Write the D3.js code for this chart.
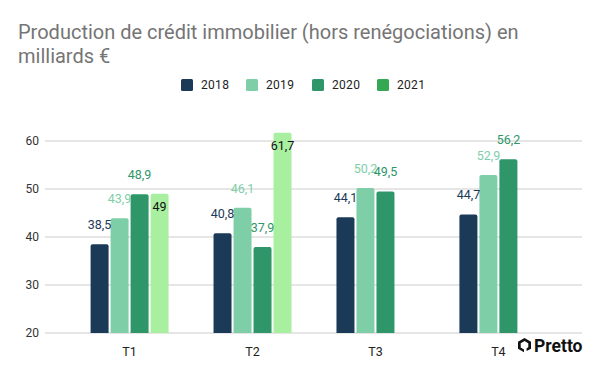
<!DOCTYPE html>
<html>
<head>
<meta charset="UTF-8">
<title>Production de crédit immobilier</title>
<script src="https://cdn.jsdelivr.net/npm/d3@7"></script>
<style>
  body { margin: 0; background: #fff; }
  svg text { font-family: Roboto, "Noto Sans", sans-serif; }
</style>
</head>
<body>
<div id="chart"></div>
<script>
// data
var quarters = ["T1", "T2", "T3", "T4"];
var years = ["2018", "2019", "2020", "2021"];
var v2018 = [38.5, 40.8, 44.1, 44.7];
var v2019 = [43.9, 46.1, 50.2, 52.9];
var v2020 = [48.9, 37.9, 49.5, 56.2];
var v2021 = [49, 61.7, null, null];
var yTicks = [20, 30, 40, 50, 60];

var barColors = ["#1b3a57", "#7ecfa8", "#2e9668", "#a8f0a0"];
var legendColors = ["#1b3a57", "#7ecfa8", "#2e9668", "#34a853"];
var labelColors = ["#1b3a57", "#7ecfa8", "#2e9668", "#111111"];

var series = [v2018, v2019, v2020, v2021];
var rows = [];
quarters.forEach(function (q, i) {
  years.forEach(function (yr, j) {
    if (series[j][i] != null) rows.push({ q: q, year: yr, idx: j, value: series[j][i] });
  });
});

var width = 600, height = 371;
var margin = { top: 141, right: 18, bottom: 38, left: 46 };

var svg = d3.select("#chart").append("svg")
  .attr("width", width).attr("height", height);

// title
var title = svg.append("text").attr("x", 18).attr("y", 39)
  .style("font-size", "20px").style("fill", "#757575");
title.append("tspan").attr("x", 18).text("Production de crédit immobilier (hors renégociations) en");
title.append("tspan").attr("x", 18).attr("dy", 24).text("milliards €");

// scales
var x = d3.scaleBand().domain(quarters)
  .range([margin.left, width - margin.right])
  .paddingInner(0).paddingOuter(0.18);
var xi = d3.scaleBand().domain(years).range([0, 78]).paddingInner(0.1).paddingOuter(0);
var y = d3.scaleLinear().domain([20, 60]).range([333, 141]);

// grid
svg.append("g").selectAll("line").data(yTicks).enter().append("line")
  .attr("x1", 45).attr("x2", 582)
  .attr("y1", function (d) { return y(d); }).attr("y2", function (d) { return y(d); })
  .style("stroke", "#cccccc").style("stroke-width", 1);

svg.append("g").selectAll("text").data(yTicks).enter().append("text")
  .attr("x", 39).attr("y", function (d) { return y(d); })
  .attr("dy", "0.35em").attr("text-anchor", "end")
  .style("font-size", "12px").style("fill", "#333")
  .text(function (d) { return d; });

// bars with rounded tops
function barPath(x0, w, top, bottom, r) {
  return "M" + x0 + "," + bottom +
    "V" + (top + r) +
    "Q" + x0 + "," + top + " " + (x0 + r) + "," + top +
    "H" + (x0 + w - r) +
    "Q" + (x0 + w) + "," + top + " " + (x0 + w) + "," + (top + r) +
    "V" + bottom + "Z";
}

var groupOffset = (x.bandwidth() - 78) / 2;
function bx(d) { return x(d.q) + groupOffset + xi(d.year); }

svg.append("g").selectAll("path").data(rows).enter().append("path")
  .attr("d", function (d) { return barPath(bx(d), xi.bandwidth(), y(d.value), y(20), 2); })
  .style("fill", function (d) { return barColors[d.idx]; });

// value labels
svg.append("g").selectAll("text").data(rows).enter().append("text")
  .attr("x", function (d) { return bx(d) + xi.bandwidth() / 2; })
  .attr("y", function (d) { return d.idx === 3 ? y(d.value) + 17 : y(d.value) - 15; })
  .attr("text-anchor", "middle")
  .style("font-size", "12.5px")
  .style("fill", function (d) { return labelColors[d.idx]; })
  .text(function (d) { return String(d.value).replace(".", ","); });

// category axis labels
svg.append("g").selectAll("text").data(quarters).enter().append("text")
  .attr("x", function (d) { return x(d) + x.bandwidth() / 2; })
  .attr("y", 356).attr("text-anchor", "middle")
  .style("font-size", "12.5px").style("fill", "#222")
  .text(function (d) { return d; });

// legend
var legendX = [181, 246, 312, 377];
var legend = svg.append("g").selectAll("g").data(years).enter().append("g")
  .attr("transform", function (d, i) { return "translate(" + legendX[i] + ",79)"; });
legend.append("rect").attr("width", 12).attr("height", 12).attr("rx", 1.5)
  .style("fill", function (d, i) { return legendColors[i]; });
legend.append("text").attr("x", 20).attr("y", 6).attr("dy", "0.35em")
  .style("font-size", "12px").style("fill", "#222").style("letter-spacing", "0.3px")
  .text(function (d) { return d; });

// Pretto logo
var logo = svg.append("g").attr("transform", "translate(518,338)");
logo.append("path")
  .attr("d", "M6.5,0 L13,3.8 L13,10.8 L8.6,13 L8.6,10.2 L10.3,9.3 L10.3,5.3 L6.5,3.1 L2.7,5.3 L2.7,9.6 L6,11.6 L6,14.2 L0,10.8 L0,3.8 Z")
  .style("fill", "#111");
svg.append("text").attr("x", 534).attr("y", 352)
  .style("font-size", "17.5px").style("font-weight", "bold").style("fill", "#111")
  .text("Pretto");
</script>
</body>
</html>
